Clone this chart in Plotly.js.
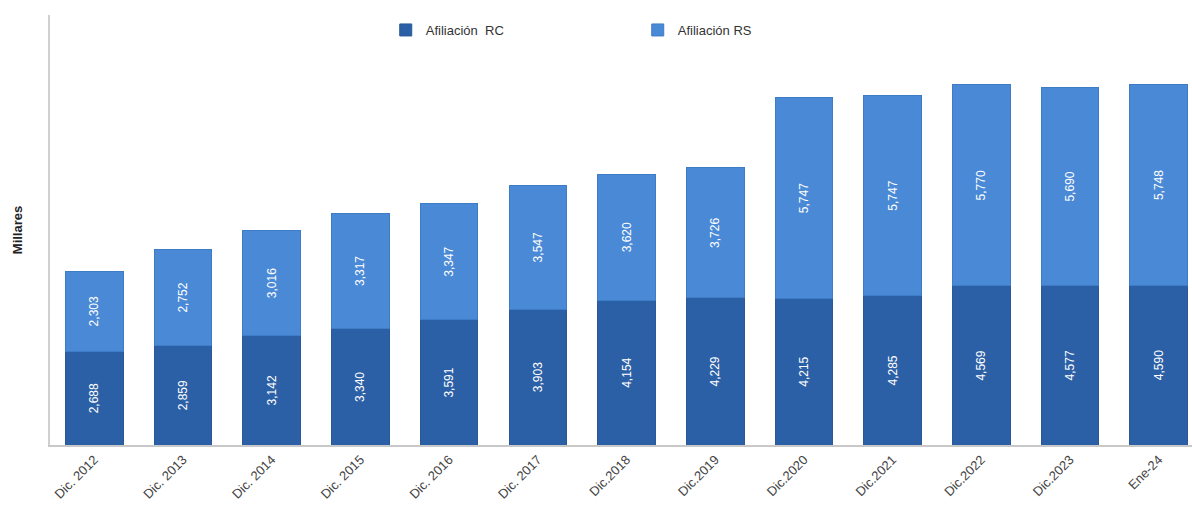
<!DOCTYPE html>
<html>
<head>
<meta charset="utf-8">
<script src="https://cdn.plot.ly/plotly-3.0.1.min.js"></script>
<style>
html,body{margin:0;padding:0;background:#fff;}
#chart{width:1192px;height:523px;}
</style>
</head>
<body>
<div id="chart"></div>
<script>
const categories = ["Dic. 2012","Dic. 2013","Dic. 2014","Dic. 2015","Dic. 2016","Dic. 2017","Dic.2018","Dic.2019","Dic.2020","Dic.2021","Dic.2022","Dic.2023","Ene-24"];
const afiliacionRC = [2688,2859,3142,3340,3591,3903,4154,4229,4215,4285,4569,4577,4590];
const afiliacionRS = [2303,2752,3016,3317,3347,3547,3620,3726,5747,5747,5770,5690,5748];
const seriesNames = ["Afiliación  RC","Afiliación RS"];

const textFont = {family:"Liberation Sans, Arial, sans-serif", size:12, color:"#ffffff"};

const traces = [
  {
    type:"bar", name:seriesNames[0], x:categories, y:afiliacionRC,
    marker:{color:"#2c60a6", line:{color:"#2a5898", width:1}},
    texttemplate:"%{y:,}", textposition:"inside", insidetextanchor:"middle",
    textangle:-90, insidetextfont:textFont, hoverinfo:"x+y+name"
  },
  {
    type:"bar", name:seriesNames[1], x:categories, y:afiliacionRS,
    marker:{color:"#4a89d6", line:{color:"#3f7cc6", width:1}},
    texttemplate:"%{y:,}", textposition:"inside", insidetextanchor:"middle",
    textangle:-90, insidetextfont:textFont, hoverinfo:"x+y+name"
  }
];

const layout = {
  width:1192, height:523,
  margin:{l:50, r:0, t:15, b:78, autoexpand:false},
  paper_bgcolor:"#ffffff", plot_bgcolor:"#ffffff",
  barmode:"stack", bargap:0.35,
  font:{family:"Liberation Sans, Arial, sans-serif", size:12, color:"#444"},
  showlegend:true,
  legend:{orientation:"h", xref:"paper", yref:"paper", x:0.294, y:1.0, xanchor:"left", yanchor:"top",
          font:{size:13, color:"#333"}, entrywidth:207, entrywidthmode:"pixels", itemwidth:30, traceorder:"normal",
          bgcolor:"rgba(0,0,0,0)"},
  xaxis:{
    range:[-0.5, 12.375], tickangle:-45, showline:true, linecolor:"#c8c8c8", linewidth:2,
    ticks:"", tickfont:{size:13, color:"#444"}, showgrid:false, zeroline:false, automargin:false
  },
  yaxis:{
    range:[0, 12340], showticklabels:false, ticks:"", showgrid:false, zeroline:false,
    showline:true, linecolor:"#d0d0d0", linewidth:2, automargin:false,
    title:{text:"<b>Millares</b>", font:{size:13, color:"#222"}, standoff:22}
  }
};

Plotly.newPlot("chart", traces, layout, {displayModeBar:false, staticPlot:true});
</script>
</body>
</html>
